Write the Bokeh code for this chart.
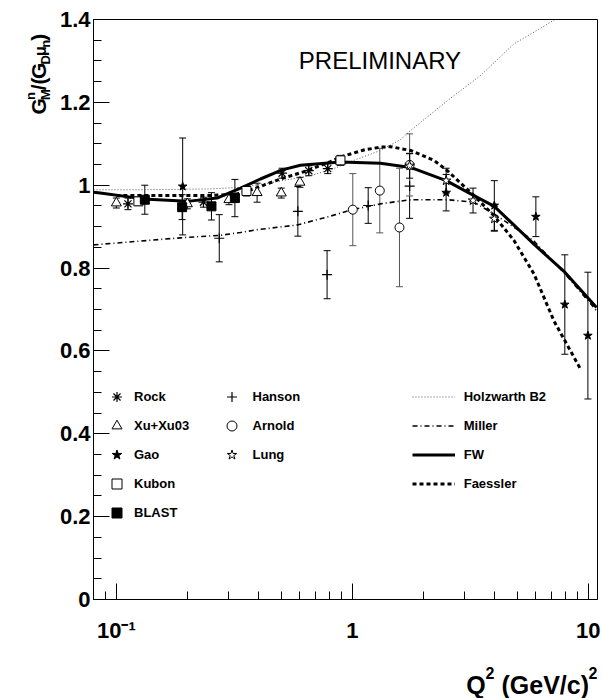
from bokeh.plotting import figure
from bokeh.layouts import row, column
from bokeh.models import (Range1d, FixedTicker, CustomJSTickFormatter, Label, Legend,
                          LegendItem, Whisker, TeeHead, ColumnDataSource)
from bokeh.embed import file_html
from bokeh.resources import INLINE

# ---------------- data ----------------
rock_q = [0.112, 0.234, 0.504, 0.654, 0.787]
rock_v = [0.955, 0.959, 1.029, 1.035, 1.040]
rock_e = [0.014, 0.012, 0.012, 0.012, 0.012]

xu_q = [0.100, 0.200, 0.300, 0.395, 0.500, 0.600]
xu_v = [0.957, 0.955, 0.965, 0.982, 0.981, 1.007]
xu_e = [0.012, 0.012, 0.012, 0.023, 0.012, 0.012]

gao_q = [0.191, 2.50, 4.00, 6.00, 7.96, 9.97]
gao_v = [0.997, 0.982, 0.951, 0.924, 0.712, 0.637]
gao_e = [0.117, 0.044, 0.060, 0.048, 0.120, 0.153]

kubon_q = [0.124, 0.356, 0.891]
kubon_v = [0.961, 0.986, 1.060]
kubon_e = [0.010, 0.012, 0.012]

blast_q = [0.132, 0.190, 0.253, 0.318]
blast_v = [0.965, 0.947, 0.949, 0.969]
blast_e = [0.035, 0.030, 0.033, 0.045]

hanson_q = [0.273, 0.588, 0.782, 1.168, 1.750]
hanson_v = [0.872, 0.937, 0.784, 0.951, 0.998]
hanson_e = [0.057, 0.060, 0.058, 0.043, 0.078]

arnold_q = [1.005, 1.308, 1.585, 1.750]
arnold_v = [0.941, 0.987, 0.898, 1.049]
arnold_e = [0.087, 0.102, 0.143, 0.075]

lung_q = [1.75, 2.50, 3.25, 4.00]
lung_v = [1.047, 1.011, 0.963, 0.919]
lung_e = [0.030, 0.030, 0.030, 0.030]

holz_q = [0.08, 0.12, 0.18, 0.25, 0.336, 0.45, 0.665, 0.833, 1.015, 1.317, 1.60,
          1.765, 2.53, 3.50, 4.84, 7.15, 7.60]
holz_v = [0.989, 0.989, 0.990, 0.991, 0.995, 1.006, 1.023, 1.040, 1.060, 1.084, 1.110,
          1.132, 1.204, 1.265, 1.341, 1.398, 1.410]

miller_q = [0.08, 0.187, 0.276, 0.336, 0.40, 0.584, 0.782, 1.0, 1.317, 1.765, 2.53,
            3.28, 3.98, 4.84, 5.89, 8.15, 10.85]
miller_v = [0.856, 0.873, 0.879, 0.886, 0.893, 0.904, 0.923, 0.941, 0.955, 0.965, 0.965,
            0.959, 0.931, 0.899, 0.865, 0.780, 0.697]

fw_q = [0.08, 0.0855, 0.13, 0.20, 0.267, 0.336, 0.408, 0.504, 0.603, 0.891, 1.317,
        1.765, 2.50, 3.25, 4.00, 5.90, 7.96, 10.85]
fw_v = [0.983, 0.981, 0.967, 0.961, 0.969, 0.993, 1.015, 1.037, 1.048, 1.056, 1.053,
        1.043, 1.011, 0.976, 0.949, 0.857, 0.790, 0.705]

faes_q = [0.10, 0.15, 0.25, 0.325, 0.382, 0.496, 0.644, 0.833, 0.891, 1.12, 1.317,
          1.45, 1.765, 2.22, 2.53, 3.28, 3.98, 4.84, 5.89, 7.15, 9.30]
faes_v = [0.975, 0.975, 0.975, 0.979, 0.991, 1.015, 1.035, 1.060, 1.068, 1.085, 1.092,
          1.093, 1.084, 1.060, 1.035, 0.975, 0.927, 0.867, 0.786, 0.673, 0.555]

x_major = [0.1, 1, 10]
x_minor = [0.09, 0.2, 0.3, 0.4, 0.5, 0.6, 0.7, 0.8, 0.9, 2, 3, 4, 5, 6, 7, 8, 9]
y_major = [0, 0.2, 0.4, 0.6, 0.8, 1.0, 1.2, 1.4]
y_minor = [0.05, 0.1, 0.15, 0.25, 0.3, 0.35, 0.45, 0.5, 0.55, 0.65, 0.7, 0.75, 0.85,
           0.9, 0.95, 1.05, 1.1, 1.15, 1.25, 1.3, 1.35]

FONT = "Liberation Sans"

# ---------------- main plot ----------------
YW = 52           # width of the strip holding the y title
PH = 650          # height of the main figure
p = figure(width=603 - YW, height=PH, x_axis_type="log",
           x_range=Range1d(0.08, 10.95), y_range=Range1d(0, 1.4),
           output_backend="svg", toolbar_location=None,
           min_border_left=93 - YW, min_border_right=6, min_border_top=19,
           min_border_bottom=PH - 599)
p.xgrid.visible = False
p.ygrid.visible = False
p.outline_line_color = "black"
p.outline_line_width = 1

for ax in (p.xaxis[0], p.yaxis[0]):
    ax.axis_line_color = "black"
    ax.major_tick_line_color = "black"
    ax.minor_tick_line_color = "black"
    ax.major_tick_in = 16
    ax.major_tick_out = 0
    ax.minor_tick_in = 8
    ax.minor_tick_out = 0
    ax.major_label_text_font = FONT
    ax.major_label_text_font_style = "bold"
    ax.major_label_text_font_size = "22px"
    ax.major_label_text_color = "black"

p.xaxis[0].ticker = FixedTicker(ticks=x_major, minor_ticks=x_minor)
p.xaxis[0].formatter = CustomJSTickFormatter(
    code="return tick < 0.5 ? '10\u207b\u00b9' : String(tick);")
p.xaxis[0].major_label_standoff = 18
p.yaxis[0].ticker = FixedTicker(ticks=y_major, minor_ticks=y_minor)
p.yaxis[0].formatter = CustomJSTickFormatter(code="return String(Math.round(tick*10)/10);")
p.yaxis[0].major_label_standoff = 3

# curves
r_holz = p.line(holz_q, holz_v, line_color="#555555", line_width=1, line_dash="1 2")
r_miller = p.line(miller_q, miller_v, line_color="black", line_width=1.6, line_dash="5 3 1 3")
r_fw = p.line(fw_q, fw_v, line_color="black", line_width=3)
r_faes = p.line(faes_q, faes_v, line_color="black", line_width=3, line_dash="4 3")


def errbars(q, v, e, color="black"):
    src = ColumnDataSource(dict(base=q,
                                upper=[a + b for a, b in zip(v, e)],
                                lower=[a - b for a, b in zip(v, e)]))
    p.add_layout(Whisker(source=src, base="base", upper="upper", lower="lower",
                         dimension="height", line_color=color, line_width=1,
                         upper_head=TeeHead(size=7, line_color=color, line_width=1),
                         lower_head=TeeHead(size=7, line_color=color, line_width=1)))


errbars(rock_q, rock_v, rock_e)
errbars(xu_q, xu_v, xu_e)
errbars(gao_q, gao_v, gao_e)
errbars(kubon_q, kubon_v, kubon_e)
errbars(blast_q, blast_v, blast_e)
errbars(hanson_q, hanson_v, hanson_e)
errbars(arnold_q, arnold_v, arnold_e, "#555555")
errbars(lung_q, lung_v, lung_e)

r_rock = p.scatter(rock_q, rock_v, marker="asterisk", size=10, line_color="black", line_width=1.2)
r_xu = p.scatter(xu_q, xu_v, marker="triangle", size=10, line_color="black", fill_color="white", line_width=1)
r_gao = p.scatter(gao_q, gao_v, marker="star", size=9, line_color="black", fill_color="black")
r_kubon = p.scatter(kubon_q, kubon_v, marker="square", size=9, line_color="black", fill_color="white", line_width=1)
r_blast = p.scatter(blast_q, blast_v, marker="square", size=9, line_color="black", fill_color="black")
r_hanson = p.scatter(hanson_q, hanson_v, marker="cross", size=10, line_color="black", line_width=1.2)
r_arnold = p.scatter(arnold_q, arnold_v, marker="circle", size=9, line_color="black", fill_color="white", line_width=1)
r_lung = p.scatter(lung_q, lung_v, marker="star", size=10, line_color="black", fill_color="white", line_width=1)

# legends
common = dict(orientation="vertical", glyph_height=25, label_height=25, spacing=4,
              padding=0, margin=0, label_text_font=FONT, label_text_font_size="13px",
              label_text_font_style="bold", label_text_color="black",
              border_line_alpha=0, background_fill_alpha=0)
leg1 = Legend(items=[LegendItem(label="Rock", renderers=[r_rock]),
                     LegendItem(label="Xu+Xu03", renderers=[r_xu]),
                     LegendItem(label="Gao", renderers=[r_gao]),
                     LegendItem(label="Kubon", renderers=[r_kubon]),
                     LegendItem(label="BLAST", renderers=[r_blast])],
              location=(11, 74.5), glyph_width=25, label_standoff=5, **common)
leg2 = Legend(items=[LegendItem(label="Hanson", renderers=[r_hanson]),
                     LegendItem(label="Arnold", renderers=[r_arnold]),
                     LegendItem(label="Lung", renderers=[r_lung])],
              location=(125.5, 132.5), glyph_width=25, label_standoff=9, **common)
leg3 = Legend(items=[LegendItem(label="Holzwarth B2", renderers=[r_holz]),
                     LegendItem(label="Miller", renderers=[r_miller]),
                     LegendItem(label="FW", renderers=[r_fw]),
                     LegendItem(label="Faessler", renderers=[r_faes])],
              location=(318.7, 103.5), glyph_width=43, label_standoff=9, **common)
for lg in (leg1, leg2, leg3):
    p.add_layout(lg)

# PRELIMINARY (anchor at the vertical middle of the capitals)
p.add_layout(Label(x=298.3 - 93, y=599 - 59.9, x_units="screen", y_units="screen",
                   text="PRELIMINARY", text_font=FONT, text_font_size="24px",
                   text_baseline="middle", text_color="black"))


def strip(w, h):
    f = figure(width=w, height=h, x_range=Range1d(0, w), y_range=Range1d(0, h),
               output_backend="svg", toolbar_location=None, min_border=0,
               x_axis_location=None, y_axis_location=None, outline_line_color=None)
    f.grid.visible = False
    return f


def put(f, h, text, sx, sy, size, align="left", angle=0.0):
    # sx, sy: pixel position of the text anchor (vertical middle) inside the strip,
    # measured from the strip's top-left corner
    f.add_layout(Label(x=sx, y=h - sy, x_units="data", y_units="data", text=text,
                       text_font=FONT, text_font_size=f"{size}px", text_font_style="bold",
                       text_align=align, text_baseline="middle", angle=angle,
                       angle_units="rad", text_color="black"))


# ---------------- y title strip: G_M^n/(G_D mu_n), reading upwards ----------------
yt = strip(YW, PH)
A = 1.5707963
put(yt, PH, "G", 38.2, 106.5, 21, angle=A)
put(yt, PH, "M", 44.9, 90.2, 13, angle=A)
put(yt, PH, "n", 30.4, 90.2, 13, angle=A)
put(yt, PH, "/(", 38.2, 79.4, 21, angle=A)
put(yt, PH, "G", 38.2, 66.6, 21, angle=A)
put(yt, PH, "D", 44.9, 50.3, 13, angle=A)
put(yt, PH, "\u03bc", 39.9, 40.9, 16, angle=A)
put(yt, PH, "n", 44.9, 31.7, 13, angle=A)
put(yt, PH, ")", 38.2, 23.8, 21, angle=A)

# ---------------- x title strip: Q^2 (GeV/c)^2 ----------------
XH = 698 - PH
xt = strip(603, XH)
put(xt, XH, "2", 597, 672.4 - PH, 16, align="right")
put(xt, XH, "(GeV/c)", 588.5, 684.3 - PH, 25, align="right")
put(xt, XH, "2", 494, 672.4 - PH, 16, align="right")
put(xt, XH, "Q", 485.1, 684.3 - PH, 25, align="right")

layout = column(row(yt, p), xt)
open("out.html", "w").write(file_html(layout, INLINE))
